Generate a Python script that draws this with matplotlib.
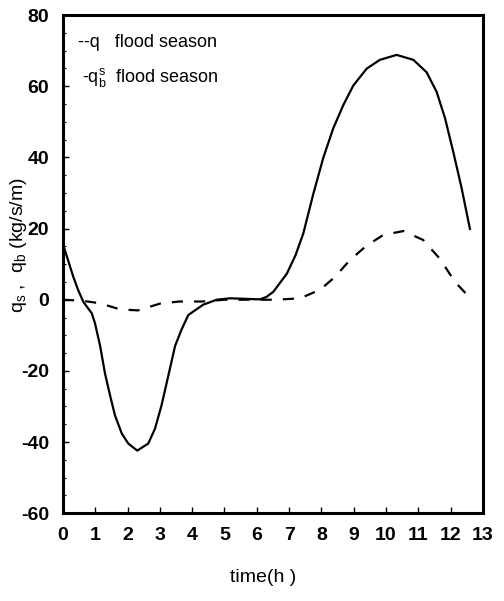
import matplotlib
matplotlib.use("Agg")
import matplotlib.pyplot as plt
from matplotlib.ticker import MultipleLocator

plt.rcParams['font.family'] = ['Liberation Sans', 'DejaVu Sans']
plt.rcParams['mathtext.fontset'] = 'custom'
plt.rcParams['mathtext.rm'] = 'Liberation Sans'
plt.rcParams['mathtext.it'] = 'Liberation Sans'
plt.rcParams['axes.unicode_minus'] = False

# q_s (solid)
t_s = [0.0, 0.16, 0.32, 0.47, 0.63, 0.89, 0.99, 1.15, 1.3, 1.46, 1.61, 1.82, 2.02, 2.3,
       2.64, 2.85, 3.05, 3.26, 3.47, 3.67, 3.88, 4.34, 4.76, 5.17, 5.5, 6.1, 6.3, 6.51,
       6.93, 7.2, 7.44, 7.75, 8.06, 8.37, 8.68, 8.99, 9.4, 9.81, 10.33, 10.85, 11.26, 11.57,
       11.83, 12.08, 12.34, 12.6]
q_s = [15.6, 11.0, 6.4, 2.7, -0.6, -3.8, -6.6, -13.0, -20.7, -27.0, -32.5, -37.6, -40.4, -42.4,
       -40.4, -36.2, -29.7, -21.4, -13.0, -8.4, -4.3, -1.4, 0.0, 0.4, 0.3, 0.1, 0.8, 2.2,
       7.3, 12.5, 18.6, 29.7, 39.9, 48.2, 54.7, 60.2, 64.9, 67.4, 68.8, 67.4, 63.9, 58.4,
       51.0, 41.7, 31.5, 19.9]

# q_b (dashed)
t_b = [0.0, 0.6, 1.15, 1.76, 2.32, 3.0, 3.6, 4.3, 5.0, 6.0, 6.6, 7.34, 7.96, 8.42, 8.89, 9.4,
       9.92, 10.54, 11.15, 11.67, 12.14, 12.55]
q_b = [0.0, -0.3, -1.0, -2.7, -3.0, -1.1, -0.5, -0.5, 0.0, 0.0, 0.0, 0.4, 2.8, 6.4, 11.2, 15.2,
       18.2, 19.3, 16.8, 11.5, 5.0, 1.0]

x_ticks = list(range(0, 14))
y_ticks = [-60, -40, -20, 0, 20, 40, 60, 80]

fig = plt.figure(figsize=(5.04, 6.01), dpi=100)
ax = fig.add_axes([0.125, 0.146, 0.833, 0.829])

ax.plot(t_s, q_s, color='black', lw=1.6, solid_joinstyle='round')
ax.plot(t_b, q_b, color='black', lw=1.6, dashes=(5, 5))

ax.set_xlim(0, 13)
ax.set_ylim(-60, 80)
ax.set_xticks(x_ticks)
ax.set_yticks(y_ticks)
ax.yaxis.set_minor_locator(MultipleLocator(5))
ax.tick_params(axis='both', which='major', direction='in', length=4, width=1,
               labelsize=14, pad=10)
ax.tick_params(axis='y', which='minor', direction='in', length=2, width=0.8)
for sp in ax.spines.values():
    sp.set_linewidth(2.2)

for lab in ax.get_xticklabels() + ax.get_yticklabels():
    lab.set_fontweight('bold')

fig.text(263 / 504, 1 - 578 / 601, 'time(h )', fontsize=14, ha='center', va='center')
fig.text(19 / 504, 1 - 245 / 601, r'q$_{s}$ ,  q$_{b}$ (kg/s/m)', fontsize=14,
         rotation=90, ha='center', va='center')

ax.text(0.035, 0.945, '--q   flood season', transform=ax.transAxes, fontsize=13,
        va='center', ha='left')
ax.text(0.045, 0.875, r'-q$_{b}^{s}$  flood season', transform=ax.transAxes, fontsize=13,
        va='center', ha='left')

fig.savefig('out.png', dpi=100)
